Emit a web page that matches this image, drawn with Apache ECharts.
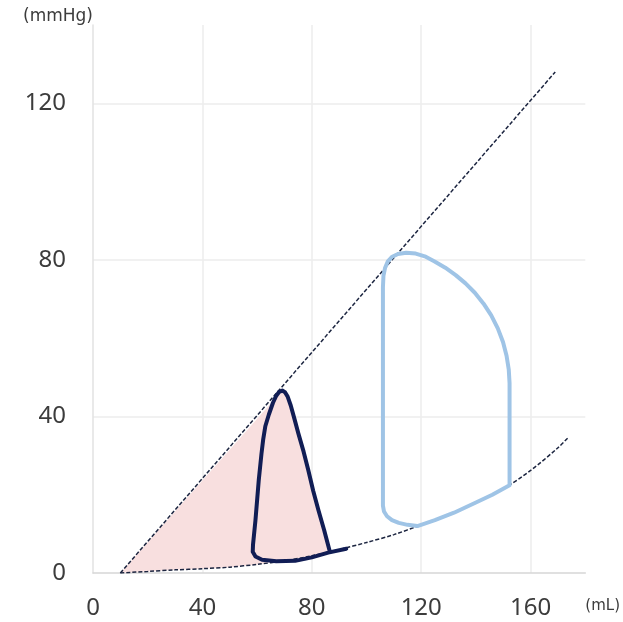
<!DOCTYPE html>
<html>
<head>
<meta charset="utf-8">
<script src="https://cdn.jsdelivr.net/npm/echarts@6/dist/echarts.min.js"></script>
<style>
html,body{margin:0;padding:0;background:#fff;}
#chart{width:623px;height:622px;}
</style>
</head>
<body>
<div id="chart"></div>
<script>
// Axis ticks
const xTicks = [0, 40, 80, 120, 160];
const yTicks = [0, 40, 80, 120];
const xUnit = '(mL)';
const yUnit = '(mmHg)';

// ESPVR (dashed straight line) [volume, pressure]
const espvr = [[10, 0], [169, 128]];

// EDPVR (dashed curve) [volume, pressure]
const edpvr = [[10,0],[20,0.4],[30,0.8],[40,1.1],[50,1.5],[60,2.2],[70,3.1],[80,4.4],[90,6.0],[100,7.8],[110,9.8],[120,12.3],[130,15.0],[140,18.0],[150,21.5],[160,26.2],[170,32.0],[174,34.8]];

// Small (dark) PV loop [volume, pressure]
const loopSmallSystole = [[86.6,5.4],[84.5,11],[82.4,16.1],[80.5,21],[78.7,26.3],[77,31],[75.1,35.6],[73.6,39.5],[72.3,42.8],[71.2,45.0],[70.2,46.2],[69.2,46.6]];
const loopSmallRest = [[68.1,46.3],[67.0,45.3],[65.8,43.5],[64.3,40.5],[63.0,37.5],[62.2,34.0],[61.6,30.5],[60.6,23.7],[59.4,13.5],[58.5,7.2],[58.4,5.4],[59.4,4.2],[61.8,3.4],[67,3.0],[73.9,3.1],[80,4.0],[86,5.2],[92.6,6.2]];

// Large (light blue) PV loop [volume, pressure]
const loopLarge = [[152.3,22.4],[152.3,35],[152.3,48.5],[152.0,52.0],[151.2,55.5],[149.9,59.0],[148.0,62.5],[145.6,65.8],[142.8,68.8],[139.6,71.6],[136.2,74.0],[132.6,76.1],[128.8,78.0],[124.9,79.6],[121.3,80.9],[118,81.6],[114.5,81.8],[111.5,81.5],[109.4,80.8],[107.8,79.6],[106.8,78.0],[106.2,76],[106,73],[106,40],[106,17.2],[106.4,15.7],[107.5,14.5],[109.3,13.5],[111.8,12.8],[115,12.3],[118.6,12.0],[125,13.5],[132,15.4],[140,18.0],[146,20.0],[152.3,22.4]];

// PVA polygon: ESPVR origin -> systolic side of small loop (reversed) -> EDPVR back to origin
const pvaPolygon = [espvr[0]]
  .concat(loopSmallSystole.slice().reverse())
  .concat(edpvr.filter(p => p[0] < 86.6).reverse());

const chart = echarts.init(document.getElementById('chart'), null, {renderer: 'canvas'});
const labelFont = {fontFamily: 'Noto Sans', fontSize: 24, color: '#3c3c3c'};

chart.setOption({
  animation: false,
  backgroundColor: '#ffffff',
  grid: {left: 93, right: 35, top: 25, bottom: 49},
  xAxis: {
    type: 'value', min: 0, max: 180, interval: 40,
    name: xUnit, nameLocation: 'end', nameGap: 0,
    nameTextStyle: {fontFamily: 'DejaVu Sans', fontSize: 15, color: '#3c3c3c', align: 'left', verticalAlign: 'top', padding: [26, 0, 0, 0]},
    axisLine: {show: true, lineStyle: {color: '#d6d6d6', width: 1.5}},
    axisTick: {show: false},
    axisLabel: Object.assign({margin: 23, showMaxLabel: false,
      formatter: v => xTicks.includes(v) ? String(v) : ''}, labelFont),
    splitLine: {show: true, showMinLine: false, showMaxLine: false, lineStyle: {color: '#ececec', width: 1.5}}
  },
  yAxis: {
    type: 'value', min: 0, max: 140, interval: 40,
    name: yUnit, nameLocation: 'end', nameGap: 0,
    nameTextStyle: {fontFamily: 'DejaVu Sans', fontSize: 17, color: '#3c3c3c', align: 'right', verticalAlign: 'bottom', padding: [0, 0, 0, 0]},
    axisLine: {show: true, lineStyle: {color: '#e2e2e2', width: 1.5}},
    axisTick: {show: false},
    axisLabel: Object.assign({margin: 27, showMaxLabel: false,
      formatter: v => yTicks.includes(v) ? String(v) : ''}, labelFont),
    splitLine: {show: true, showMinLine: false, showMaxLine: false, lineStyle: {color: '#ececec', width: 1.5}}
  },
  series: [
    {
      type: 'custom', z: 1, silent: true,
      data: [pvaPolygon[0]],
      renderItem: (params, api) => ({
        type: 'polygon',
        shape: {points: pvaPolygon.map(p => api.coord(p))},
        style: {fill: '#f8dfdf'}
      })
    },
    {
      type: 'line', z: 2, data: espvr, symbol: 'none', silent: true,
      lineStyle: {color: '#1c2540', width: 1.5, type: [4, 2]}
    },
    {
      type: 'line', z: 2, data: edpvr, symbol: 'none', smooth: 0.3, silent: true,
      lineStyle: {color: '#1c2540', width: 1.5, type: [4, 2]}
    },
    {
      type: 'line', z: 3, data: loopLarge, symbol: 'none', smooth: false, silent: true,
      lineStyle: {color: '#9fc4e6', width: 4, cap: 'round', join: 'round'}
    },
    {
      type: 'line', z: 4, data: loopSmallSystole.concat(loopSmallRest), symbol: 'none', smooth: false, silent: true,
      lineStyle: {color: '#111d55', width: 4, cap: 'round', join: 'round'}
    }
  ]
});
</script>
</body>
</html>
